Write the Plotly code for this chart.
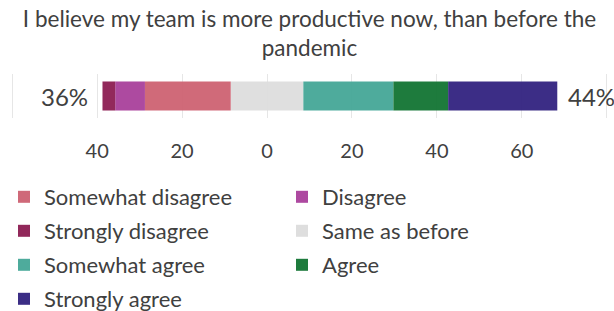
import plotly.graph_objects as go

title_text = "I believe my team is more productive now, than before the<br>pandemic"
category = ["Team more productive"]

same_as_before = 17.1
somewhat_disagree = 20.2
disagree = 7.0
strongly_disagree = 3.0
somewhat_agree = 21.2
agree = 12.9
strongly_agree = 25.7

left_label = "36%"
right_label = "44%"

tick_vals = [-60, -40, -20, 0, 20, 40, 60, 80]
tick_text = ["", "40", "20", "0", "20", "40", "60", ""]

colors = {
    "Strongly disagree": "#8C1D52",
    "Disagree": "#A9409B",
    "Somewhat disagree": "#CD6272",
    "Same as before": "#DDDDDD",
    "Somewhat agree": "#45A797",
    "Agree": "#127433",
    "Strongly agree": "#31227F",
}

FONT = "Lato"
TXT = "#404040"
W, H = 614, 311

fig = go.Figure()

def add(name, value, legend, rank, show=True):
    fig.add_trace(go.Bar(
        y=category, x=[value], orientation="h", name=name,
        marker=dict(color=colors[name], line=dict(width=0)),
        opacity=0.95, legend=legend, legendrank=rank, legendgroup=name,
        showlegend=show, hoverinfo="name+x",
    ))

# negative side (stacks outward from zero)
add("Same as before", -same_as_before / 2, "legend2", 2, show=False)
add("Somewhat disagree", -somewhat_disagree, "legend", 1)
add("Disagree", -disagree, "legend2", 1)
add("Strongly disagree", -strongly_disagree, "legend", 2)
# positive side
add("Same as before", same_as_before / 2, "legend2", 2)
add("Somewhat agree", somewhat_agree, "legend", 3)
add("Agree", agree, "legend2", 3)
add("Strongly agree", strongly_agree, "legend", 4)

left_total = same_as_before / 2 + somewhat_disagree + disagree + strongly_disagree
right_total = same_as_before / 2 + somewhat_agree + agree + strongly_agree

fig.add_annotation(x=-left_total, y=category[0], text=left_label, xanchor="right",
                   xshift=-12, showarrow=False, font=dict(family=FONT, size=24, color=TXT))
fig.add_annotation(x=right_total, y=category[0], text=right_label, xanchor="left",
                   xshift=9, showarrow=False, font=dict(family=FONT, size=24, color=TXT))

leg_common = dict(orientation="v", tracegroupgap=2.4,
                  font=dict(family=FONT, size=22, color=TXT), bgcolor="rgba(0,0,0,0)",
                  xref="container", yref="container", xanchor="left", yanchor="top",
                  itemclick=False, itemdoubleclick=False, traceorder="grouped")

fig.update_layout(
    width=W, height=H,
    margin=dict(l=8, r=3, t=74, b=193, autoexpand=False),
    barmode="relative", bargap=0.34,
    plot_bgcolor="white", paper_bgcolor="white",
    title=dict(text=title_text, x=0.5, xanchor="center", xref="paper",
               y=1 - 27 / H, yanchor="top", yref="container",
               font=dict(family=FONT, size=22.5, color=TXT)),
    xaxis=dict(range=[-61, 81], tickvals=tick_vals, ticktext=tick_text,
               showgrid=True, gridcolor="#E6E6E6", gridwidth=1, zeroline=False,
               showline=False, ticks="", ticklabelstandoff=19,
               tickfont=dict(family=FONT, size=20, color=TXT), fixedrange=True),
    yaxis=dict(showticklabels=False, showgrid=False, zeroline=False, fixedrange=True),
    legend=dict(**leg_common, x=4 / W, y=1 - 176 / H),
    legend2=dict(**leg_common, x=282 / W, y=1 - 176 / H),
    showlegend=True,
)

fig.write_html("out.html", config={"displayModeBar": False},
               post_script="document.body.style.margin='0';")
